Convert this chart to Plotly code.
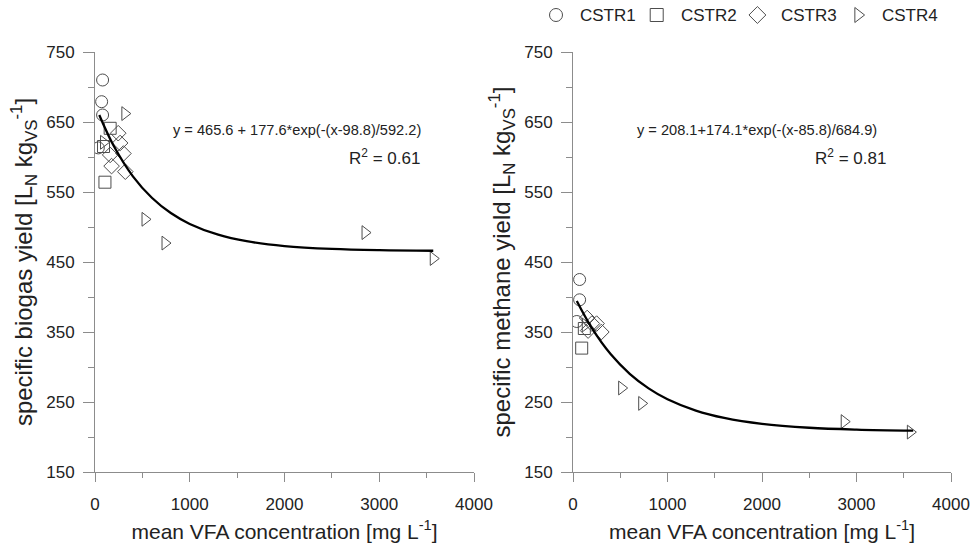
import plotly.graph_objects as go

# ---- data ----
series_names = ["CSTR1", "CSTR2", "CSTR3", "CSTR4"]
symbols = ["circle-open", "square-open", "diamond-open", "triangle-right-open"]

# panel a: specific biogas yield
biogas_x = {
    "CSTR1": [80, 70, 80, 35],
    "CSTR2": [105, 160, 90],
    "CSTR3": [245, 265, 160, 175, 300, 320],
    "CSTR4": [90, 315, 528, 739, 2850, 3570],
}
biogas_y = {
    "CSTR1": [710, 679, 660, 613],
    "CSTR2": [564, 641, 615],
    "CSTR3": [634, 620, 603, 587, 605, 579],
    "CSTR4": [621, 662, 511, 477, 492, 455],
}
# panel b: specific methane yield
methane_x = {
    "CSTR1": [70, 70, 40],
    "CSTR2": [92, 120],
    "CSTR3": [150, 200, 250, 300, 160],
    "CSTR4": [130, 515, 727, 2870, 3570],
}
methane_y = {
    "CSTR1": [425, 396, 365],
    "CSTR2": [327, 355],
    "CSTR3": [370, 362, 362, 350, 352],
    "CSTR4": [360, 270, 248, 222, 207],
}

# fitted curves
fit_a_x = [45, 200, 400, 600, 800, 1000, 1300, 1600, 2000, 2500, 3000, 3570]
fit_a_y = [660.1, 615.3, 572.4, 541.8, 519.9, 504.4, 489.0, 479.7, 472.8, 468.7, 466.9, 466.1]
fit_b_x = [40, 200, 400, 600, 800, 1000, 1300, 1600, 2000, 2500, 3000, 3600]
fit_b_y = [394.2, 355.5, 318.1, 290.3, 269.5, 253.9, 237.7, 227.2, 218.7, 213.2, 210.6, 209.1]

x_ticks = [0, 1000, 2000, 3000, 4000]
y_ticks = [150, 250, 350, 450, 550, 650, 750]

FONT = "Liberation Sans, Arial, sans-serif"
GRAY = "#4d4d4d"
AX = "#8c8c8c"
TXT = "#222222"
W, H = 973, 548

fig = go.Figure()

def add_panel(xs, ys, fx, fy, xa, ya):
    for i, name in enumerate(series_names):
        fig.add_trace(go.Scatter(
            x=xs[name], y=ys[name], mode="markers", name=name,
            marker=dict(symbol=symbols[i], size=12, color=GRAY, line=dict(width=1, color=GRAY)),
            showlegend=False, xaxis=xa, yaxis=ya))
    fig.add_trace(go.Scatter(x=fx, y=fy, mode="lines", name="fit",
                             line=dict(color="black", width=2.3, shape="spline"),
                             showlegend=False, xaxis=xa, yaxis=ya))

add_panel(biogas_x, biogas_y, fit_a_x, fit_a_y, "x", "y")
add_panel(methane_x, methane_y, fit_b_x, fit_b_y, "x2", "y2")

# legend row (drawn with an auxiliary hidden axis)
for i, name in enumerate(series_names):
    fig.add_trace(go.Scatter(
        x=[i], y=[0.5], mode="markers", name=name,
        marker=dict(symbol=symbols[i], size=13, color=GRAY, line=dict(width=1, color=GRAY)),
        showlegend=False, xaxis="x3", yaxis="y3", hoverinfo="skip"))

def xax(domain, anchor):
    return dict(domain=domain, anchor=anchor, range=[0, 4000], tickvals=x_ticks,
                ticktext=[str(v) for v in x_ticks], automargin=False,
                showgrid=False, zeroline=False, showline=True, linecolor=AX, linewidth=1,
                ticks="outside", ticklen=9, tickcolor=AX, tickwidth=1,
                minor=dict(ticks="outside", ticklen=5, dtick=500, tickcolor=AX, showgrid=False),
                tickfont=dict(size=17, color=TXT, family=FONT), ticklabelstandoff=8,
                title=dict(text="mean VFA concentration [mg L<sup>-1</sup>]",
                           font=dict(size=21, color=TXT, family=FONT), standoff=10))

def yax(domain, anchor, title):
    return dict(domain=domain, anchor=anchor, range=[150, 750], tickvals=y_ticks,
                ticktext=[str(v) for v in y_ticks], automargin=False,
                showgrid=False, zeroline=False, showline=True, linecolor=AX, linewidth=1,
                ticks="outside", ticklen=11, tickcolor=AX, tickwidth=1,
                minor=dict(ticks="outside", ticklen=6, dtick=50, tickcolor=AX, showgrid=False),
                tickfont=dict(size=17, color=TXT, family=FONT), ticklabelstandoff=5,
                title=dict(text=title, font=dict(size=24, color=TXT, family=FONT), standoff=6))

ydom = [1 - 472 / H, 1 - 52 / H]
ann = [
    dict(x=70, y=752, xref="x", yref="y", text="a", showarrow=False, xanchor="left", yanchor="top",
         font=dict(size=18, color=TXT, family=FONT)),
    dict(x=50, y=752, xref="x2", yref="y2", text="b", showarrow=False, xanchor="left", yanchor="top",
         font=dict(size=18, color=TXT, family=FONT)),
    dict(x=2130, y=639, xref="x", yref="y", text="y = 465.6 + 177.6*exp(-(x-98.8)/592.2)", showarrow=False,
         font=dict(size=14.6, color=TXT, family=FONT)),
    dict(x=2660, y=600, xref="x", yref="y", text="R<sup>2</sup> = 0.61", showarrow=False, xanchor="left",
         font=dict(size=17, color=TXT, family=FONT)),
    dict(x=1942, y=639, xref="x2", yref="y2", text="y = 208.1+174.1*exp(-(x-85.8)/684.9)", showarrow=False,
         font=dict(size=14.6, color=TXT, family=FONT)),
    dict(x=2540, y=600, xref="x2", yref="y2", text="R<sup>2</sup> = 0.81", showarrow=False, xanchor="left",
         font=dict(size=17, color=TXT, family=FONT)),
]
for i, name in enumerate(series_names):
    ann.append(dict(x=i, y=0.5, xref="x3", yref="y3", text=name, showarrow=False, xanchor="left",
                    xshift=22, font=dict(size=17, color=TXT, family=FONT)))

fig.update_layout(
    template="none",
    width=W, height=H,
    margin=dict(l=0, r=0, t=0, b=0),
    paper_bgcolor="white", plot_bgcolor="white",
    font=dict(family=FONT, color=TXT),
    showlegend=False,
    hovermode=False,
    xaxis=xax([95 / W, 474 / W], "y"),
    yaxis=yax(ydom, "x", "specific biogas yield [L<sub>N</sub> kg<sub>VS</sub><sup>-1</sup>]"),
    xaxis2=xax([573 / W, 951 / W], "y2"),
    yaxis2=yax(ydom, "x2", "specific methane yield [L<sub>N</sub> kg<sub>VS</sub><sup>-1</sup>]"),
    xaxis3=dict(domain=[540 / W, 960 / W], anchor="y3", range=[-0.159, 4.012], visible=False, automargin=False),
    yaxis3=dict(domain=[1 - 30 / H, 1 - 0 / H], anchor="x3", range=[0, 1], visible=False, automargin=False),
    annotations=ann,
)

fig.write_html("out.html", config={"displayModeBar": False},
               post_script="document.body.style.margin='0';document.body.style.padding='0';")
